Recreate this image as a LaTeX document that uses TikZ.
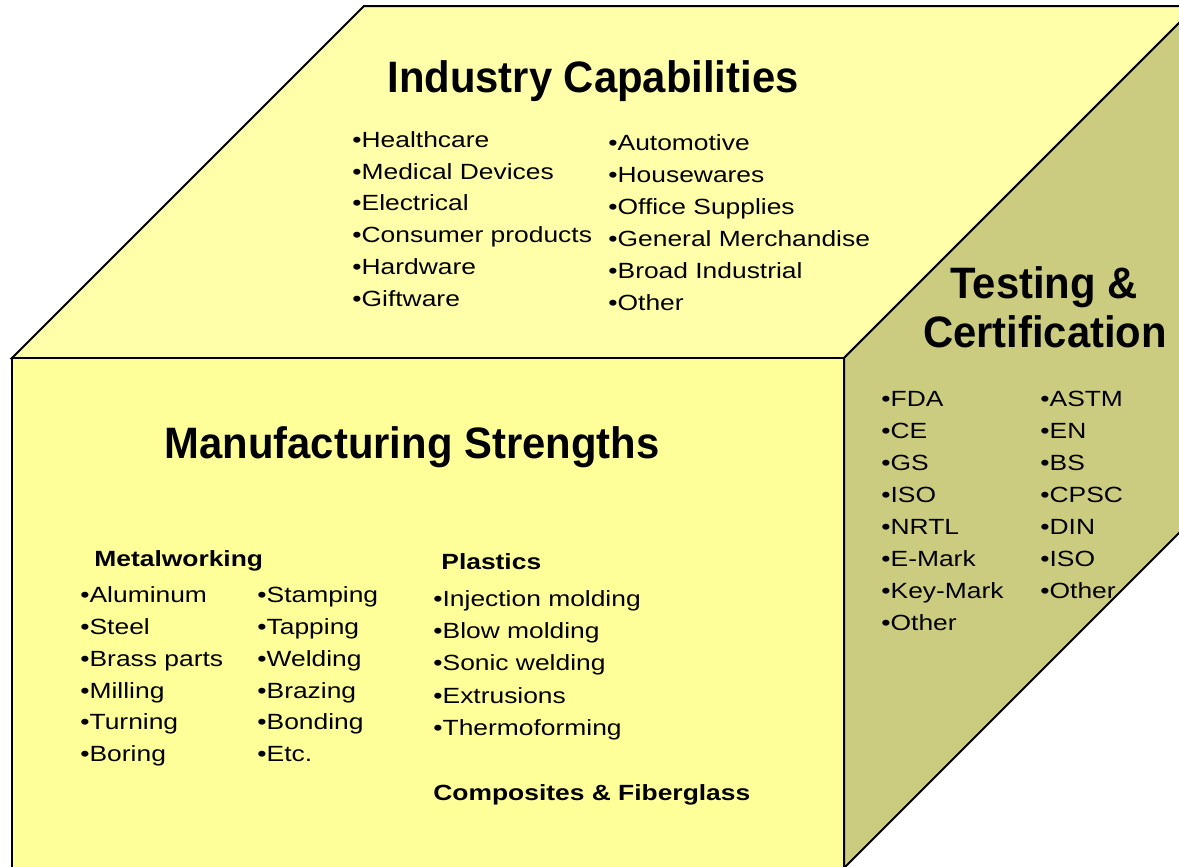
\documentclass[tikz,border=0pt]{standalone}
\usepackage{fontspec}
\setmainfont{Liberation Sans}
\newfontfamily\itemfont[FakeStretch=1.2]{Liberation Sans}
\newfontfamily\headfont[FakeStretch=0.95]{Liberation Sans}

\tikzset{
  face/.style={draw=black, line width=1pt, line join=miter},
  heading/.style={font=\headfont\fontsize{22}{26}\selectfont\bfseries, inner sep=0pt, anchor=base},
  subhead/.style={font=\itemfont\fontsize{11}{13}\selectfont\bfseries, inner sep=0pt, anchor=base west},
  item/.style={font=\itemfont\fontsize{11}{13}\selectfont, inner sep=0pt, anchor=base west},
}

\begin{document}
\begin{tikzpicture}[x=0.5pt, y=-0.5pt]
  \definecolor{topface}{RGB}{255,255,170}
  \definecolor{frontface}{RGB}{255,255,153}
  \definecolor{sideface}{RGB}{204,204,128}
  \useasboundingbox (0,0) rectangle (1179,867);
  \clip (0,0) rectangle (1179,867);
  % the three faces of the box
  \filldraw[face, fill=topface] (12,358) -- (364,6) -- (1196,6) -- (844,358) -- cycle;
  \filldraw[face, fill=frontface] (12,358) rectangle (844,868);
  \filldraw[face, fill=sideface] (844,358) -- (1196,6) -- (1196,516) -- (844,868) -- cycle;

  % headings
  \node[heading] (industry) at (593,92) {Industry Capabilities};
  \node[heading] (manufacturing) at (412,458) {Manufacturing Strengths};
  \node[heading] (testing) at (1044,298) {Testing \&};
  \node[heading] (certification) at (1045,347) {Certification};

  % top face
  \foreach \name [count=\i] in {Healthcare, Medical Devices, Electrical,
      Consumer products, Hardware, Giftware}
    \node[item] (ind-a\i) at (352, {147.5+31.7*(\i-1)}) {•\name};
  \foreach \name [count=\i] in {Automotive, Housewares, Office Supplies,
      General Merchandise, Broad Industrial, Other}
    \node[item] (ind-b\i) at (608, {150+32*(\i-1)}) {•\name};

  % side face
  \foreach \name [count=\i] in {FDA, CE, GS, ISO, NRTL, E-Mark, Key-Mark, Other}
    \node[item] (test-a\i) at (881, {406.7+31.9*(\i-1)}) {•\name};
  \foreach \name [count=\i] in {ASTM, EN, BS, CPSC, DIN, ISO, Other}
    \node[item] (test-b\i) at (1040, {406.7+31.9*(\i-1)}) {•\name};

  % front face
  \node[subhead] (metal) at (94,566) {Metalworking};
  \foreach \name [count=\i] in {Aluminum, Steel, Brass parts, Milling, Turning, Boring}
    \node[item] (metal-a\i) at (80, {602.7+31.8*(\i-1)}) {•\name};
  \foreach \name [count=\i] in {Stamping, Tapping, Welding, Brazing, Bonding, Etc.}
    \node[item] (metal-b\i) at (257, {602.7+31.8*(\i-1)}) {•\name};
  \node[subhead] (plastics) at (441,569.3) {Plastics};
  \foreach \name [count=\i] in {Injection molding, Blow molding, Sonic welding,
      Extrusions, Thermoforming}
    \node[item] (plast\i) at (433, {606.7+32.1*(\i-1)}) {•\name};
  \node[subhead] (composites) at (433,800) {Composites \& Fiberglass};
\end{tikzpicture}
\end{document}
